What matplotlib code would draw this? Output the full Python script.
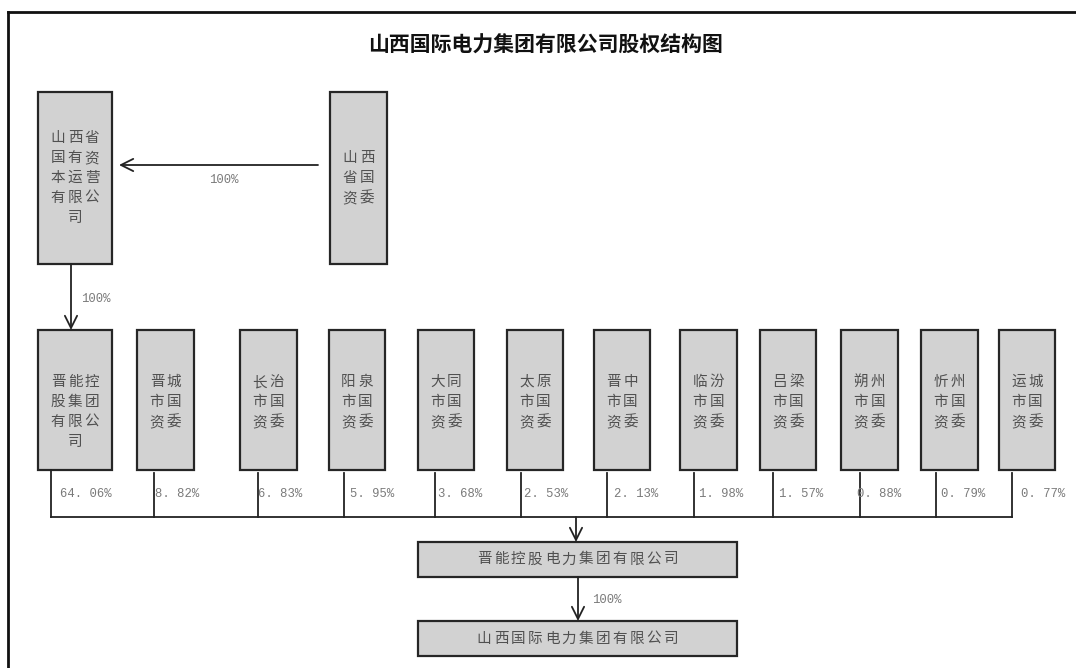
import matplotlib.pyplot as plt
from matplotlib.patches import Rectangle

plt.rcParams['font.family'] = ['Noto Sans CJK SC', 'DejaVu Sans']

title = '山西国际电力集团有限公司股权结构图'
top_owner = '山西省国资委'
top_holding = '山西省国有资本运营有限公司'
top_stake = 100
shareholders = ['晋能控股集团有限公司', '晋城市国资委', '长治市国资委', '阳泉市国资委',
                '大同市国资委', '太原市国资委', '晋中市国资委', '临汾市国资委',
                '吕梁市国资委', '朔州市国资委', '忻州市国资委', '运城市国资委']
stakes = [64.06, 8.82, 6.83, 5.95, 3.68, 2.53, 2.13, 1.98, 1.57, 0.88, 0.79, 0.77]
holding_stake = 100
mid_company = '晋能控股电力集团有限公司'
target_company = '山西国际电力集团有限公司'

# layout (pixel coords, y downwards)
box_left = [38, 137, 240, 329, 418, 507, 594, 680, 760, 841, 921, 999]
box_right = [112, 194, 297, 385, 474, 563, 650, 737, 816, 898, 978, 1055]
stub_x = [51, 154, 258, 344, 435, 521, 607, 694, 773, 860, 936, 1012]
label_x = [60, 155, 258, 350, 438, 524, 614, 699, 779, 857, 941, 1021]

FILL = '#d2d2d2'
EDGE = '#262626'
TXT = '#505050'
PITCH = 17

fig = plt.figure(figsize=(10.76, 6.68), dpi=100)
ax = fig.add_axes([0, 0, 1, 1])
ax.set_xlim(0, 1076)
ax.set_ylim(668, 0)
ax.axis('off')


def pct(v):
    return f'{v:.2f}%'.replace('.', '. ') if v != int(v) else f'{int(v)}%'


def chars(xc, y, s):
    # one glyph at a time, fixed pitch like the original
    x0 = xc - (len(s) - 1) * PITCH / 2
    for k, ch in enumerate(s):
        ax.text(x0 + k * PITCH, y, ch, ha='center', va='center', fontsize=10.5, color=TXT)


def box(x0, x1, y0, y1, name, ytop=None, pitch=20):
    ax.add_patch(Rectangle((x0, y0), x1 - x0, y1 - y0, fc=FILL, ec=EDGE, lw=1.6))
    per = 3 if x1 - x0 > 65 else 2
    lines = [name[i:i + per] for i in range(0, len(name), per)]
    if ytop is None:
        ytop = (y0 + y1) / 2 - (len(lines) - 1) * pitch / 2
    for i, l in enumerate(lines):
        chars((x0 + x1) / 2, ytop + i * pitch, l)


def hbox(x0, x1, y0, y1, name):
    ax.add_patch(Rectangle((x0, y0), x1 - x0, y1 - y0, fc=FILL, ec=EDGE, lw=1.6))
    chars((x0 + x1) / 2, (y0 + y1) / 2, name)


def arrow(x0, y0, x1, y1):
    ax.annotate('', xy=(x1, y1), xytext=(x0, y0),
                arrowprops=dict(arrowstyle='->', lw=1.3, color='#222222',
                                mutation_scale=22, shrinkA=0, shrinkB=0))


def small(x, y, s, ha='center'):
    ax.text(x, y, s, ha=ha, va='center', fontsize=8.8, color='#7a7a7a',
            family=['Liberation Mono', 'DejaVu Sans Mono'])


# frame
ax.plot([8, 8], [668, 12], color='#111111', lw=2, solid_capstyle='projecting')
ax.plot([8, 1076], [12, 12], color='#111111', lw=2, solid_capstyle='projecting')

ax.text(546, 45, title, ha='center', va='center', fontsize=15, fontweight='bold',
        color='#111111')

# top row
box(38, 112, 92, 264, top_holding)
box(330, 387, 92, 264, top_owner)
arrow(318, 165, 119, 165)
small(224, 180, pct(top_stake))
arrow(71, 264, 71, 330)
small(96, 299, pct(top_stake))

# shareholder row
for i, (name, v) in enumerate(zip(shareholders, stakes)):
    box(box_left[i], box_right[i], 330, 470, name, ytop=382)
    ax.plot([stub_x[i], stub_x[i]], [470 if i == 0 else 473, 517], color='#222222', lw=1.3)
    small(label_x[i], 494, pct(v), ha='left')
ax.plot([stub_x[0], stub_x[-1]], [517, 517], color='#222222', lw=1.3)

# bottom chain
arrow(576, 517, 576, 542)
hbox(418, 737, 542, 577, mid_company)
arrow(578, 577, 578, 621)
small(607, 600, pct(holding_stake))
hbox(418, 737, 621, 656, target_company)

fig.savefig('out.png', dpi=100)
